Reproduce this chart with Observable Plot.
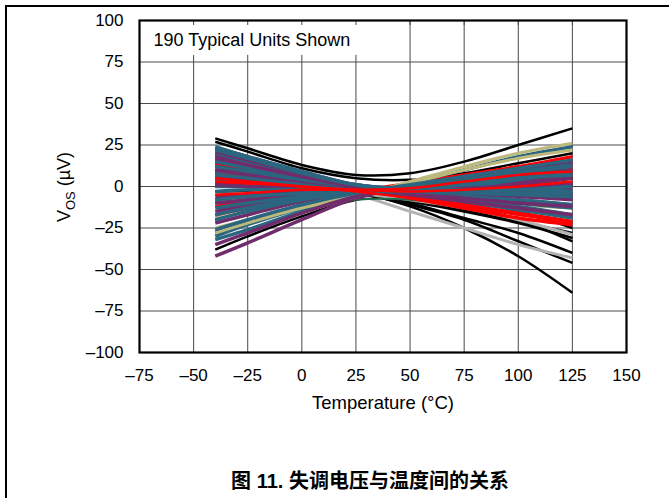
<!DOCTYPE html>
<html>
<head>
<meta charset="utf-8">
<script src="https://cdn.jsdelivr.net/npm/d3@7"></script>
<script src="https://cdn.jsdelivr.net/npm/@observablehq/plot@0.6"></script>
<style>
  html, body { margin: 0; padding: 0; background: #fff; }
  body { width: 669px; height: 498px; position: relative; overflow: hidden; font-family: "Liberation Sans", Arial, sans-serif; }
  #frame { position: absolute; left: 5px; top: 5px; width: 670px; height: 500px; border-left: 2px solid #000; border-top: 2px solid #000; }
  #chart { position: absolute; left: 0; top: 0; }
  #caption { position: absolute; left: 0; width: 740px; top: 468px; line-height: 24px; text-align: center; font-family: "Liberation Sans", "Noto Sans CJK SC", sans-serif; font-weight: bold; font-size: 20px; color: #000; white-space: nowrap; }
  #caption .cjk { font-family: "Noto Sans CJK SC", sans-serif; }
</style>
</head>
<body>
<div id="frame"></div>
<div id="chart"></div>
<div id="caption">图 11. <span class="cjk">失调电压与温度间的关系</span></div>
<script>
// Temperatures (°C) at which each unit's offset is read
const temps = [-40, -25, 0, 25, 50, 75, 100, 125];

// Offset voltage (µV) per unit, grouped by trace colour
const blackUnits = [
  [29, 23, 13, 7, 8, 15, 25, 35],
  [27, 21, 11, 5, 4, 8, 14, 20],
  [-38, -30, -18, -8, -4, 0, 4, 6],
  [10, 8, 3, -3, -12, -25, -42, -64],
  [5, 3, 0, -4, -10, -19, -28, -40],
  [8, 6, 1, -4, -11, -20, -33, -46],
  [2, 1, -1, -4, -9, -15, -22, -31],
  [-3, -3, -3, -4, -8, -14, -21, -28],
  [14, 11, 5, -2, -5, -7, -4, 1],
  [-20, -15, -8, -4, -4, -8, -15, -25],
  [0, 0, -1, -3, -7, -12, -20, -33],
  [-10, -8, -5, -3, -2, 0, 2, 5]
];
const grayUnits = [
  [6, 4, 0, -5, -15, -25, -35, -43],
  [-5, -4, -3, -4, -8, -13, -20, -29]
];
const greenUnits = [
  [-27, -21, -13, -8, -8, -12, -17, -22],
  [4, 3, 0, -3, -6, -10, -14, -19]
];
const khakiInnerUnits = [
  [5, 3, 0, -2, -3, -3, -3, -2],
  [-18, -13, -7, -3, 0, 4, 8, 12],
  [15, 11, 5, 0, -4, -8, -11, -13]
];
const redUnits = [
  [14, 10, 4, -1, -4, -8, -13, -18],
  [2, 1, -1, -3, -2, 2, 8, 14],
  [-17, -13, -7, -3, 2, 7, 12, 18],
  [17, 12, 5, -1, -7, -13, -19, -23],
  [-8, -6, -3, -2, 0, 4, 8, 11],
  [8, 6, 2, -2, -6, -11, -16, -21],
  [-12, -9, -5, -3, 1, 5, 9, 12]
];
const purpleUnitsA = [
  [23, 18, 9, 1, -2, -4, -5, -5],
  [-42, -34, -20, -7, 0, 6, 10, 14],
  [20, 15, 7, 0, -4, -7, -10, -12],
  [12, 9, 4, -1, -3, -2, 1, 5],
  [-15, -11, -6, -3, -2, -3, -5, -7],
  [-6, -5, -3, -3, -1, 2, 4, 7],
  [-28, -22, -12, -5, -1, 3, 5, 6],
  [16, 12, 5, 0, -2, -3, -1, 1]
];
const tealUnitsA = [
  [-32, -26, -15, -6, 2, 10, 18, 24],
  [15, 11, 5, 0, -3, -6, -10, -13],
  [9, 7, 2, -1, -4, -8, -12, -17],
  [4, 3, 0, -2, -2, 0, 3, 7],
  [19, 14, 6, 0, -3, -5, -8, -11],
  [12, 9, 4, 0, -4, -9, -14, -19],
  [0, 0, -1, -2, -1, 1, 4, 8],
  [-17, -13, -7, -3, -3, -5, -8, -11],
  [-30, -23, -13, -5, -2, -2, -3, -4]
];
const khakiUnits = [
  [-28, -22, -13, -6, 3, 12, 20, 26],
  [-25, -20, -12, -5, 2, 10, 17, 22]
];
const purpleUnitsB = [
  [-35, -28, -16, -6, -1, 3, 6, 8],
  [18, 13, 6, 0, -2, -1, 0, 2],
  [-22, -17, -9, -4, 0, 4, 7, 10],
  [6, 4, 1, -2, -5, -9, -13, -17],
  [10, 7, 2, -2, -3, -3, -2, -1],
  [1, 0, -1, -3, -5, -7, -10, -12],
  [-10, -8, -5, -3, -3, -4, -6, -8],
  [21, 16, 8, 0, -3, -2, 2, 7]
];
const tealUnitsB = [
  [22, 17, 8, 1, -2, -3, -2, 0],
  [-26, -20, -11, -4, 1, 6, 11, 16],
  [-20, -15, -8, -3, 0, 2, 5, 7],
  [-13, -10, -6, -3, -2, -2, -2, -3],
  [-3, -2, -2, -3, -3, -4, -5, -6],
  [-8, -6, -4, -3, 0, 4, 9, 13],
  [7, 5, 1, -2, -1, 3, 8, 12],
  [24, 18, 9, 1, -1, 1, 5, 9]
];
const redTopUnits = [
  [-5, -4, -2, -2, -1, 3, 7, 9],
  [3, 2, 0, -2, -3, -2, 0, 3],
  [5, 3, 0, -3, -7, -12, -17, -22]
];

// Axis ticks
const xTicks = [-75, -50, -25, 0, 25, 50, 75, 100, 125, 150];
const yTicks = [-100, -75, -50, -25, 0, 25, 50, 75, 100];
const noteText = "190 Typical Units Shown";

function toRows(units, name) {
  const rows = [];
  units.forEach((u, i) => u.forEach((v, j) => rows.push({unit: name + i, t: temps[j], v})));
  return rows;
}

const lineOpts = (w) => ({x: "t", y: "v", z: "unit", curve: "catmull-rom", strokeWidth: w, strokeLinejoin: "round", strokeLinecap: "butt"});
const fmt = d => d < 0 ? "\u2013" + Math.abs(d) : String(d);
const PURPLE = "#712c6c", TEAL = "#2b6680", RED = "#ff0000", KHAKI = "#bdb87c";

const chart = Plot.plot({
  width: 669,
  height: 420,
  marginLeft: 139,
  marginRight: 43,
  marginTop: 20,
  marginBottom: 68,
  style: {fontFamily: "'Liberation Sans', Arial, sans-serif", fontSize: "17px", background: "transparent", overflow: "visible"},
  x: {domain: [-75, 150], ticks: xTicks, tickFormat: fmt, tickSize: 0, tickPadding: 16, label: null},
  y: {domain: [-100, 100], ticks: yTicks, tickFormat: fmt, tickSize: 0, tickPadding: 16, label: null},
  marks: [
    Plot.ruleX(xTicks, {stroke: "#4a4a4a", strokeWidth: 1}),
    Plot.ruleY(yTicks, {stroke: "#4a4a4a", strokeWidth: 1}),
    Plot.line(toRows(blackUnits, "k"), {...lineOpts(2.5), stroke: "#000"}),
    Plot.line(toRows(grayUnits, "g"), {...lineOpts(3), stroke: "#b3b3b3"}),
    Plot.line(toRows(greenUnits, "n"), {...lineOpts(2), stroke: "#1f6a4c"}),
    Plot.line(toRows(khakiInnerUnits, "yi"), {...lineOpts(3), stroke: KHAKI}),
    Plot.line(toRows(redUnits, "r"), {...lineOpts(3.5), stroke: RED}),
    Plot.line(toRows(purpleUnitsA, "pa"), {...lineOpts(3.5), stroke: PURPLE}),
    Plot.line(toRows(tealUnitsA, "ta"), {...lineOpts(3.5), stroke: TEAL}),
    Plot.line(toRows(khakiUnits, "y"), {...lineOpts(3), stroke: KHAKI}),
    Plot.line(toRows(purpleUnitsB, "pb"), {...lineOpts(3.5), stroke: PURPLE}),
    Plot.line(toRows(tealUnitsB, "tb"), {...lineOpts(3.5), stroke: TEAL}),
    Plot.line(toRows(redTopUnits, "s"), {...lineOpts(2.5), stroke: RED}),
    Plot.rect([noteText], {x1: () => -75, x2: () => 27, y1: () => 79, y2: () => 100, fill: "white"}),
    Plot.ruleX(xTicks.slice(1, -1), {y1: () => 100, y2: () => 97, stroke: "#4a4a4a"}),
    Plot.text([noteText], {x: () => -75, y: () => 100, text: d => d, textAnchor: "start", dx: 14, dy: 20, fontSize: 18, fill: "#000"}),
    Plot.frame({stroke: "#000", strokeWidth: 2.2})
  ]
});
document.getElementById("chart").appendChild(chart);

// Axis titles (with subscript) added to the same SVG
const svg = d3.select(chart);
svg.append("text")
  .attr("x", 383).attr("y", 409)
  .attr("text-anchor", "middle")
  .attr("font-size", 18.5).attr("fill", "#000")
  .attr("font-family", "'Liberation Sans', Arial, sans-serif")
  .text("Temperature (\u00B0C)");
const yt = svg.append("text")
  .attr("transform", "translate(70,187) rotate(-90)")
  .attr("text-anchor", "middle")
  .attr("font-size", 18).attr("fill", "#000")
  .attr("font-family", "'Liberation Sans', Arial, sans-serif");
yt.append("tspan").text("V");
yt.append("tspan").attr("font-size", 13).attr("dy", 5).text("OS");
yt.append("tspan").attr("dy", -5).text(" (\u00B5V)");
</script>
</body>
</html>
